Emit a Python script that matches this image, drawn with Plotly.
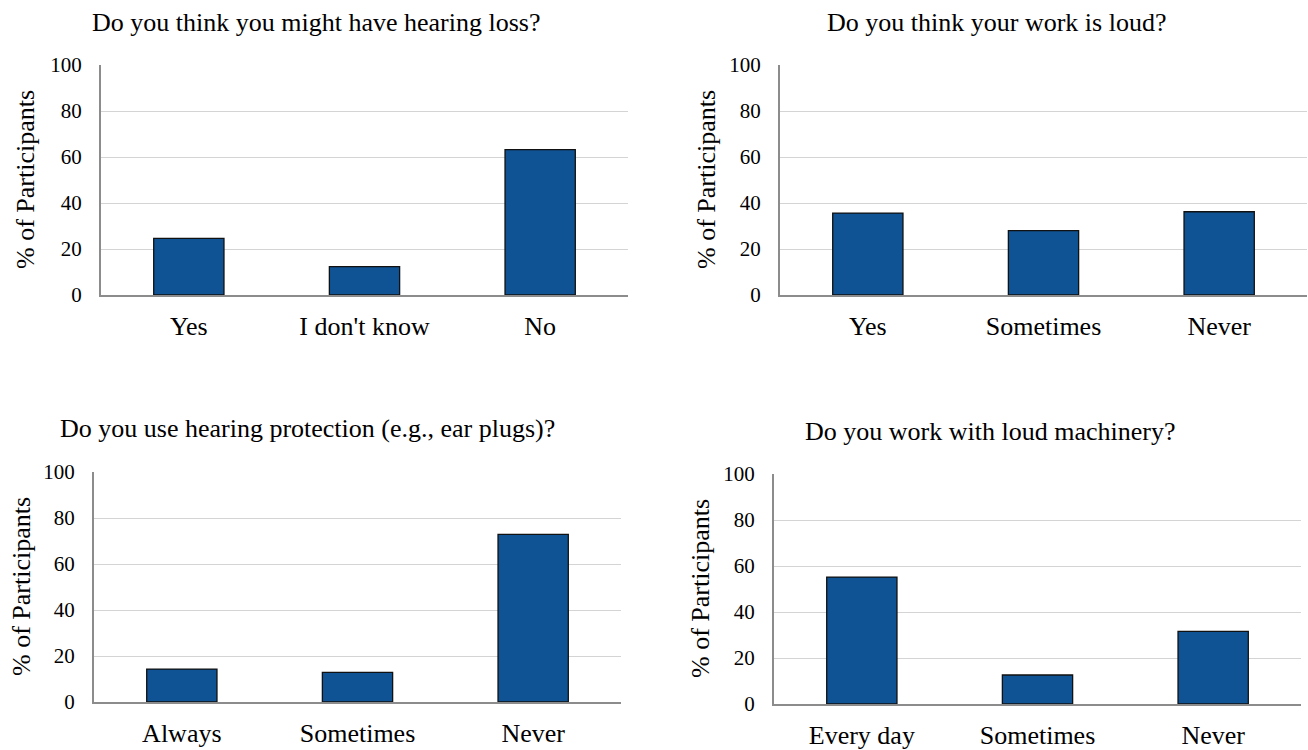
import plotly.graph_objects as go

# Survey responses (% of participants) for each question
q1_title = "Do you think you might have hearing loss?"
q1_labels = ["Yes", "I don't know", "No"]
q1_values = [24.6, 12.3, 63.2]

q2_title = "Do you think your work is loud?"
q2_labels = ["Yes", "Sometimes", "Never"]
q2_values = [35.6, 28.0, 36.2]

q3_title = "Do you use hearing protection (e.g., ear plugs)?"
q3_labels = ["Always", "Sometimes", "Never"]
q3_values = [14.3, 12.9, 72.9]

q4_title = "Do you work with loud machinery?"
q4_labels = ["Every day", "Sometimes", "Never"]
q4_values = [55.2, 12.6, 31.6]

y_ticks = [0, 20, 40, 60, 80, 100]
y_title = "% of Participants"

W, H = 1308, 750
FONT = "Liberation Serif"
BAR_COLOR = "#0F5394"

# Plot-area boxes in pixels: (left, right, top, bottom)
panels = [
    dict(title=q1_title, labels=q1_labels, values=q1_values, box=(101, 628, 65, 295), title_x=316, title_y=23, ytitle_x=25),
    dict(title=q2_title, labels=q2_labels, values=q2_values, box=(780, 1307, 65, 295), title_x=996, title_y=23, ytitle_x=706),
    dict(title=q3_title, labels=q3_labels, values=q3_values, box=(94, 621, 472, 702), title_x=307, title_y=428, ytitle_x=21),
    dict(title=q4_title, labels=q4_labels, values=q4_values, box=(774, 1301, 474, 704), title_x=990, title_y=432, ytitle_x=700),
]

fig = go.Figure()
annotations = []

for i, p in enumerate(panels, start=1):
    xa = "x" if i == 1 else f"x{i}"
    ya = "y" if i == 1 else f"y{i}"
    left, right, top, bottom = p["box"]
    fig.add_trace(go.Bar(
        x=p["labels"], y=p["values"], xaxis=xa, yaxis=ya,
        marker=dict(color=BAR_COLOR, line=dict(color="#111111", width=1.3)),
        showlegend=False, hoverinfo="x+y",
    ))
    xkey = "xaxis" if i == 1 else f"xaxis{i}"
    ykey = "yaxis" if i == 1 else f"yaxis{i}"
    fig.update_layout({
        xkey: dict(
            domain=[left / W, right / W], anchor=ya, automargin=False,
            type="category", showgrid=False, zeroline=False,
            showline=True, linecolor="#8C8C8C", linewidth=2,
            ticks="", tickfont=dict(family=FONT, size=26, color="black"),
            ticklabelstandoff=7, fixedrange=True,
        ),
        ykey: dict(
            domain=[1 - bottom / H, 1 - top / H], anchor=xa, automargin=False,
            range=[0, 100], tickvals=y_ticks,
            showgrid=True, gridcolor="#D4D4D4", gridwidth=1.3,
            zeroline=False, showline=True, linecolor="#8C8C8C", linewidth=2,
            ticks="", tickfont=dict(family=FONT, size=21, color="black"),
            ticklabelstandoff=13, fixedrange=True,
        ),
    })
    annotations.append(dict(
        text=p["title"], x=p["title_x"] / W, y=1 - p["title_y"] / H,
        xref="paper", yref="paper", xanchor="center", yanchor="middle",
        showarrow=False, font=dict(family=FONT, size=26, color="black"),
    ))
    annotations.append(dict(
        text=y_title, textangle=-90,
        x=p["ytitle_x"] / W, y=1 - ((top + bottom) / 2) / H,
        xref="paper", yref="paper", xanchor="center", yanchor="middle",
        showarrow=False, font=dict(family=FONT, size=26, color="black"),
    ))

fig.update_layout(
    width=W, height=H,
    margin=dict(l=0, r=0, t=0, b=0),
    paper_bgcolor="white", plot_bgcolor="white",
    bargap=0.6,
    annotations=annotations,
)

fig.write_html("out.html", config={"displayModeBar": False})
